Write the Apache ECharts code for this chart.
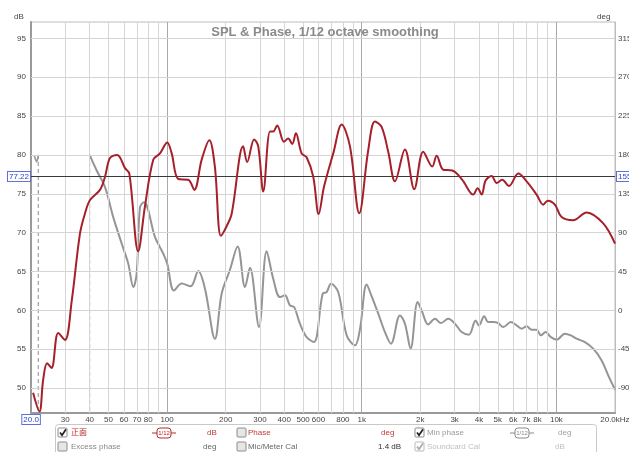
<!DOCTYPE html>
<html><head><meta charset="utf-8">
<script src="https://cdn.jsdelivr.net/npm/echarts@6/dist/echarts.min.js"></script>
<style>html,body{margin:0;padding:0;background:#fff}#c{width:629px;height:452px}</style>
</head><body><div id="c"></div>
<script>
// ---- data ----
const splFreq = [20.5,22.1,23.1,24.2,25.5,27.6,29.9,32.4,35.7,37.9,40.2,45.2,48.0,50.9,55.5,60.8,64.0,71.1,77.0,85.0,92.0,100.2,105.6,114.2,128.5,138,150.6,164.8,176,189,202,214.6,246,258,280,294,312,338,351,368,398.6,419,439.6,459,491,521,563.6,601,640,714,789,870,971,1080,1169,1265,1368,1481,1667,1861,2070,2302,2426,2622,2918,3284,3740,3937,4130,4328,4646,4932,5268,5702,6368,7030,7912,8560,9016,9826,10634,12192,14294,17402,20000];
const splDb = [49.4,47.0,51.1,53.2,52.6,57.1,56.2,61.3,69.9,72.5,74.2,75.5,77.2,79.6,80.0,78.3,77.6,67.6,73.4,79.4,80.2,81.6,80.2,76.9,76.8,75.5,79.4,81.9,78.5,69.6,70.8,72.4,81.1,79.1,82.0,81.1,75.3,83.0,83.0,83.8,81.7,82.1,81.4,82.8,80.2,79.7,77.2,72.4,75.9,80.2,83.9,81.1,72.5,80.6,84.3,83.6,80.4,76.6,80.7,75.6,80.4,78.5,79.9,78.1,78.0,76.8,74.9,75.7,74.9,76.7,77.3,76.4,76.8,76.0,77.6,76.6,74.9,73.6,74.1,73.6,72.0,71.6,72.6,71.2,68.6];

const phaseLowFreq = [20.8,21.4,21.8];
const phaseLowDeg = [179,172,180];
const phaseFreq = [40,43.5,48.0,52.9,58.5,63.2,67.1,69.8,72.6,76.1,86.7,92,95.6,100.2,108.5,118.9,132.2,144.6,156.6,176.2,190.7,210.4,230.4,251.4,266.6,296.6,324.8,351,380,403,427.8,450,481.6,521,568,629.8,660,695,757,837,923,979,1060,1125,1216,1316,1413,1571,1667,1783,1937,2031,2196,2377,2552,2782,3012,3260,3554,3846,4000,4258,4464,4736,5024,5332,5838,6244,6628,7032,7458,7914,8328,8804,9372,10024,11060,11872,12700,14010,15454,17072,18458,20000];
const phaseDeg = [180,162,142.7,108,77.2,54,27,42.5,119.5,125.3,84.8,73,65.6,54,23,31,28,45.5,25,-32.8,19.3,47,74,27,49.4,-19.3,68.6,36.7,15.4,17.4,5.8,3.8,-15.4,-30.9,-36.7,19.3,21.2,30.9,21.2,-28.9,-40.5,-22,30,16.2,-3.8,-25.1,-38.5,-5.8,-15.4,-44.3,9.6,0,-16.2,-9.6,-14.7,-9.6,-15.4,-25.1,-28.1,-11.6,-17.4,-6.9,-13.5,-13.5,-14.7,-19.3,-13.5,-17.4,-21.2,-18.5,-22.3,-22.3,-28.9,-25.1,-30.9,-33.9,-27,-28.9,-32.8,-36.7,-44.3,-57.9,-75.2,-91.8];
const phaseWrapFreq = [21.8, 40];
const phaseWrapTop = 180;

const dbTicks = [50,55,60,65,70,75,80,85,90,95];
const degTicks = [-90,-45,0,45,90,135,180,225,270,315];
const freqGrid = [30,40,50,60,70,80,90,100,200,300,400,500,600,700,800,900,1000,2000,3000,4000,5000,6000,7000,8000,9000,10000];
const freqLabels = ['30','40','50','60','70','80','','100','200','300','400','500','600','','800','','1k','2k','3k','4k','5k','6k','7k','8k','','10k'];
const majorFreq = [100,1000,10000];
const freqEndLabels = ['20.0','20.0kHz'];
const refLevelDb = 77.22, refLevelDeg = 155;

// ---- axes extents ----
const DB_MIN = 46.8, DB_MAX = 97.1;
const DEG_MIN = (DB_MIN-60)*9, DEG_MAX = (DB_MAX-60)*9;
const FONT = "'Liberation Sans', Arial, sans-serif";
const HIDDEN = {color:'rgba(0,0,0,0)', width:0};

const zip = (a,b) => a.map((v,i)=>[v,b[i]]);
const boxLabel = {color:'#2b3fc4', backgroundColor:'#fff', borderColor:'#6070d8', borderWidth:1, padding:[1,1,0,1], fontSize:8, fontFamily:FONT};
const tickLabel = {color:'#444', fontSize:8, fontFamily:FONT};

const vGrid = freqGrid.map((f,i)=>({
  xAxis:f,
  lineStyle:{color: majorFreq.includes(f)?'#a9a9a9':'#d6d6d6', width:1, type:'solid'},
  label:Object.assign({show:true, formatter:freqLabels[i], position:'start', distance:3}, tickLabel)
}));
vGrid.push({xAxis:20.02, lineStyle:HIDDEN, label:Object.assign({show:true, formatter:freqEndLabels[0], position:'start', distance:2}, boxLabel)});
vGrid.push({xAxis:19980, lineStyle:HIDDEN, label:Object.assign({show:true, formatter:freqEndLabels[1], position:'start', distance:3}, tickLabel)});

const hGrid = dbTicks.map(v=>({
  yAxis:v, lineStyle:{color:'#d4d4d4', width:1, type:'solid'},
  label:Object.assign({show:true, formatter:String(v), position:'start', distance:5}, tickLabel)
}));

const degLabels = degTicks.map(v=>({
  yAxis:v, lineStyle:HIDDEN,
  label:Object.assign({show:true, formatter:String(v), position:'end', distance:3}, tickLabel)
}));
degLabels.push({yAxis:refLevelDeg, lineStyle:HIDDEN, label:Object.assign({show:true, formatter:String(refLevelDeg), position:'end', distance:2}, boxLabel)});

const chart = echarts.init(document.getElementById('c'), null, {renderer:'canvas'});

function checkbox(x,y,checked,disabled){
  const els=[{type:'rect', shape:{x:x,y:y,width:9,height:9,r:1}, style:{fill: checked?'#fff':'#e6e6e6', stroke: disabled?'#bbb':'#8c8c8c', lineWidth:1}}];
  if(checked) els.push({type:'polyline', shape:{points:[[x+2,y+4.5],[x+4,y+7.2],[x+8,y+1.2]]}, style:{stroke: disabled?'#aaa':'#222', lineWidth:1.7, fill:null}});
  return els;
}
function txt(x,y,s,color,size,align){
  return {type:'text', x:x, y:y, style:{text:s, fill:color, font:(size||8)+"px 'Liberation Sans', 'Noto Sans CJK SC', Arial, sans-serif", textAlign:align||'left', textVerticalAlign:'middle'}};
}
function smoothIcon(x,y,color){
  return [
    {type:'line', shape:{x1:x,y1:y,x2:x+24,y2:y}, style:{stroke:color, lineWidth:1}},
    {type:'rect', shape:{x:x+5,y:y-5,width:14,height:10,r:3}, style:{fill:'#fff', stroke:color, lineWidth:1}},
    {type:'text', x:x+12, y:y, style:{text:'1/12', fill:color, font:"6px 'Liberation Sans', Arial", textAlign:'center', textVerticalAlign:'middle'}}
  ];
}
const r1 = 433, r2 = 447;
const legendEls = [].concat(
  [{type:'rect', shape:{x:55.5,y:424.5,width:541,height:40,r:3}, style:{fill:'#fff', stroke:'#c8c8c8', lineWidth:1}}],
  checkbox(58,r1-5,true,false), [txt(71,r1,'正面','#b52a2a',8)],
  smoothIcon(152,r1,'#b52a2a'), [txt(207,r1,'dB','#c0393a',8)],
  checkbox(237,r1-5,false,false), [txt(248,r1,'Phase','#c0393a',8)],
  [txt(381,r1,'deg','#c0393a',8)],
  checkbox(415,r1-5,true,false), [txt(427,r1,'Min phase','#9a9a9a',8)],
  smoothIcon(510,r1,'#8a8a8a'), [txt(558,r1,'deg','#a0a0a0',8)],
  checkbox(58,r2-5,false,false), [txt(71,r2,'Excess phase','#888',8)],
  [txt(203,r2,'deg','#666',8)],
  checkbox(237,r2-5,false,false), [txt(248,r2,'Mic/Meter Cal','#666',8)],
  [txt(378,r2,'1.4 dB','#333',8)],
  checkbox(415,r2-5,true,true), [txt(427,r2,'Soundcard Cal','#c0c0c0',8)],
  [txt(555,r2,'dB','#c0c0c0',8)],
  [txt(14,17,'dB','#444',8), txt(597,17,'deg','#444',8)]
);

chart.setOption({
  animation:false,
  backgroundColor:'#fff',
  title:{text:'SPL & Phase, 1/12 octave smoothing', left:320, top:21, textAlign:'center',
    textStyle:{color:'#8a8a8a', fontSize:13, fontWeight:'bold', fontFamily:FONT}},
  grid:{left:31, right:14, top:22, bottom:39, show:true, borderColor:'#bcbcbc', borderWidth:1, backgroundColor:'#fff'},
  xAxis:{type:'log', logBase:10, min:20, max:20000,
    axisLabel:{show:false}, axisTick:{show:false}, splitLine:{show:false}, minorSplitLine:{show:false},
    axisLine:{show:true, onZero:false, lineStyle:{color:'#9a9a9a', width:2}}},
  yAxis:[
    {type:'value', min:DB_MIN, max:DB_MAX, position:'left', axisLabel:{show:false}, axisTick:{show:false}, splitLine:{show:false},
      axisLine:{show:true, onZero:false, lineStyle:{color:'#9a9a9a', width:2}}},
    {type:'value', min:DEG_MIN, max:DEG_MAX, position:'right', axisLabel:{show:false}, axisTick:{show:false}, splitLine:{show:false},
      axisLine:{show:true, onZero:false, lineStyle:{color:'#bcbcbc', width:1}}}
  ],
  graphic:legendEls,
  series:[
    {type:'line', name:'grid', data:[], yAxisIndex:0, z:1, silent:true,
      markLine:{silent:true, symbol:['none','none'], animation:false, data: vGrid.concat(hGrid)}},
    {type:'line', name:'deglabels', data:[], yAxisIndex:1, z:1, silent:true,
      markLine:{silent:true, symbol:['none','none'], animation:false, data: degLabels}},
    {type:'line', name:'wrap1', yAxisIndex:1, z:2, symbol:'none', data:[[phaseWrapFreq[0],phaseWrapTop],[phaseWrapFreq[0],DEG_MIN]],
      lineStyle:{color:'#a0a0a0', width:1.2, type:[4,3]}},
    {type:'line', name:'wrap2', yAxisIndex:1, z:2, symbol:'none', data:[[phaseWrapFreq[1],phaseWrapTop],[phaseWrapFreq[1],DEG_MIN]],
      lineStyle:{color:'#a0a0a0', width:1.2, type:[4,3]}},
    {type:'line', name:'Min phase low', yAxisIndex:1, z:3, symbol:'none', smooth:0.3, data:zip(phaseLowFreq,phaseLowDeg),
      lineStyle:{color:'#9a9a9a', width:1.6}},
    {type:'line', name:'Min phase', yAxisIndex:1, z:3, symbol:'none', smooth:0.35, data:zip(phaseFreq,phaseDeg),
      lineStyle:{color:'#959595', width:2}},
    {type:'line', name:'ref', data:[], yAxisIndex:0, z:4, silent:true,
      markLine:{silent:true, symbol:['none','none'], animation:false,
        data:[{yAxis:refLevelDb, lineStyle:{color:'#3a3a3a', width:1, type:'solid'},
          label:Object.assign({show:true, formatter:String(refLevelDb), position:'start', distance:1}, boxLabel)}]}},
    {type:'line', name:'正面', yAxisIndex:0, z:5, symbol:'none', smooth:0.35, data:zip(splFreq,splDb),
      lineStyle:{color:'#a5202a', width:2}}
  ]
});
</script></body></html>
